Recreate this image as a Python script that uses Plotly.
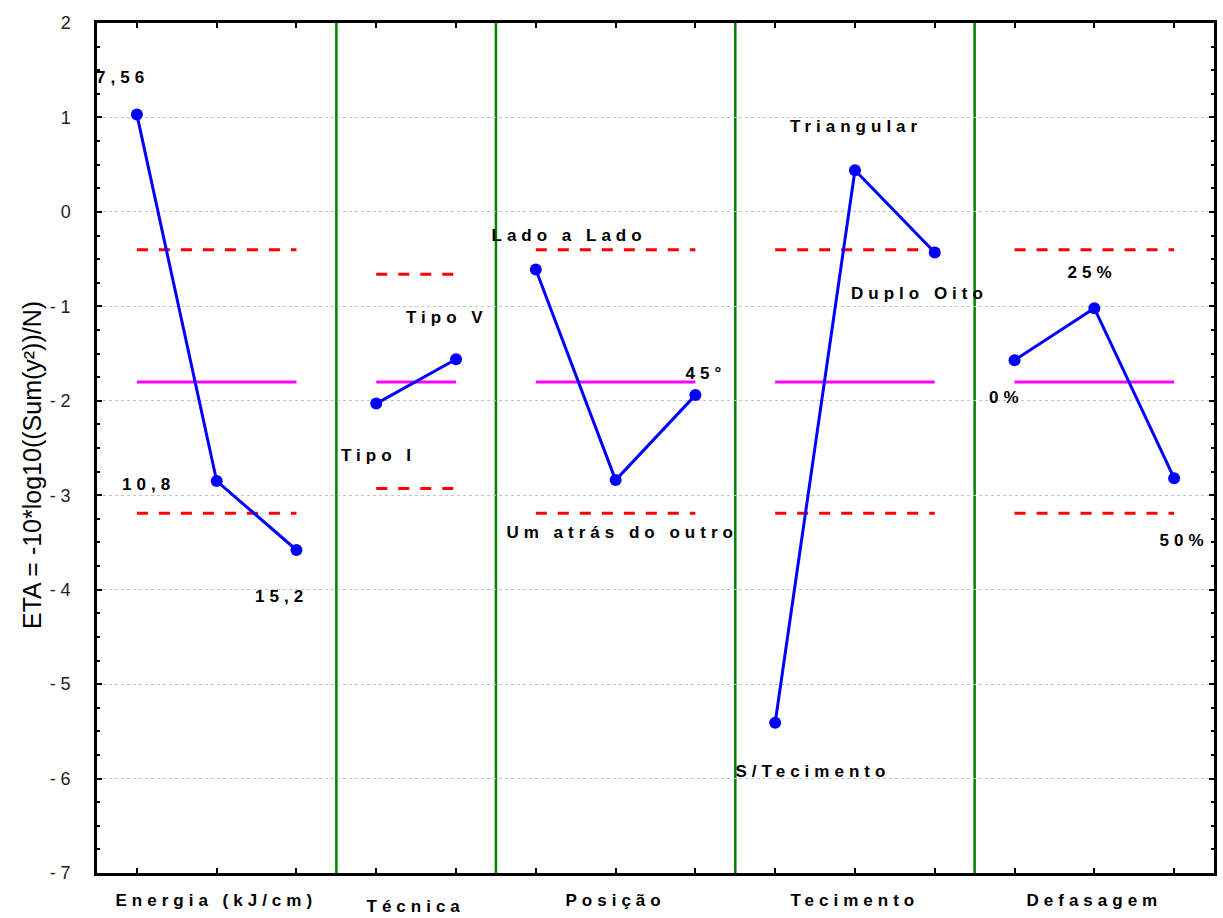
import plotly.graph_objects as go

# Factor groups and their levels
factors = ["Energia (kJ/cm)", "Técnica", "Posição", "Tecimento", "Defasagem"]
levels = [
    ["7,56", "10,8", "15,2"],
    ["Tipo I", "Tipo V"],
    ["Lado a Lado", "Um atrás do outro", "45°"],
    ["S/Tecimento", "Triangular", "Duplo Oito"],
    ["0%", "25%", "50%"],
]

# Mean ETA for each level
energia = [1.03, -2.85, -3.58]
tecnica = [-2.03, -1.56]
posicao = [-0.61, -2.84, -1.94]
tecimento = [-5.41, 0.44, -0.43]
defasagem = [-1.57, -1.02, -2.82]
values = [energia, tecnica, posicao, tecimento, defasagem]

# Grand mean and ±2 sigma limits (by number of levels)
grand_mean = -1.80
upper_limit = {3: -0.40, 2: -0.66}
lower_limit = {3: -3.19, 2: -2.93}

# Label offsets (pixels) relative to each point
label_dx = [[-14, -68, -15], [2, -9], [33, 6, 11], [38, 2, -15], [-8, -2, 10]]
label_dy = [[37, -3, -46], [-52, 42], [34, -52, 22], [-49, 44, -41], [-37, 36, -62]]

LABEL_FONT = dict(family="Liberation Sans Narrow, Arial Narrow, Liberation Sans, Arial",
                  size=17, color="black", weight="bold")

fig = go.Figure()
annotations = []
shapes = []

start = 0
xs_all = []
for gi, (vals, names) in enumerate(zip(values, levels)):
    n = len(vals)
    xs = [start + i + 0.5 for i in range(n)]
    xs_all.extend(xs)
    # limits
    for lim in (upper_limit[n], lower_limit[n]):
        fig.add_trace(go.Scatter(x=[xs[0], xs[-1]], y=[lim, lim], mode="lines",
                                 line=dict(color="#ff0000", width=3, dash="11px,11px"),
                                 hoverinfo="skip", showlegend=False))
    # grand mean
    fig.add_trace(go.Scatter(x=[xs[0], xs[-1]], y=[grand_mean, grand_mean], mode="lines",
                             line=dict(color="#ff00ff", width=3),
                             hoverinfo="skip", showlegend=False))
    # level means
    fig.add_trace(go.Scatter(x=xs, y=vals, mode="lines+markers",
                             line=dict(color="#0000ff", width=3),
                             marker=dict(color="#0000ff", size=12),
                             showlegend=False))
    for i in range(n):
        annotations.append(dict(x=xs[i], y=vals[i], xref="x", yref="y", text=names[i],
                                showarrow=False, xshift=label_dx[gi][i], yshift=label_dy[gi][i],
                                font=LABEL_FONT, xanchor="center", yanchor="middle"))
    # factor name under the axis
    annotations.append(dict(x=start + n / 2, y=0, xref="x", yref="paper", text=factors[gi],
                            showarrow=False, yshift=-33 if factors[gi] == "Técnica" else -27,
                            font=LABEL_FONT, xanchor="center", yanchor="middle"))
    start += n
    if gi < len(values) - 1:
        shapes.append(dict(type="line", x0=start, x1=start, y0=0, y1=1, xref="x", yref="paper",
                           line=dict(color="#008000", width=2.5), layer="below"))

total = start

# y-axis title
annotations.append(dict(x=0, y=0.48, xref="paper", yref="paper", xshift=-65,
                        text="ETA = -10*log10((Sum(y²))/N)", textangle=-90, showarrow=False,
                        font=dict(family="Liberation Sans, Arial", size=25, color="black"),
                        xanchor="center", yanchor="middle"))
title_index = len(annotations) - 1

yticks = list(range(-7, 3))
ytext = [str(v) if v >= 0 else "- " + str(-v) for v in yticks]

fig.update_layout(
    width=1223, height=918,
    margin=dict(l=97, r=6, t=23, b=45),
    plot_bgcolor="white", paper_bgcolor="white",
    annotations=annotations, shapes=shapes,
    xaxis=dict(range=[0, total], tickvals=xs_all, showticklabels=False,
               ticks="inside", ticklen=5, tickwidth=2, tickcolor="black",
               showline=True, linewidth=2.5, linecolor="black", mirror="ticks",
               showgrid=False, zeroline=False),
    yaxis=dict(range=[-7, 2], tickvals=yticks, ticktext=ytext,
               ticks="inside", ticklen=5, tickwidth=2, tickcolor="black",
               minor=dict(dtick=0.25, ticks="inside", ticklen=3, tickwidth=2, tickcolor="black", showgrid=False),
               showline=True, linewidth=2.5, linecolor="black", mirror="ticks",
               showgrid=True, gridcolor="#c4c4c4", gridwidth=1, griddash="dot",
               zeroline=False, ticklabelstandoff=20,
               tickfont=dict(family="Liberation Sans Narrow, Arial Narrow, Liberation Sans, Arial",
                             size=18, color="#222222")),
)

post = """
var s = document.createElement('style');
s.textContent = '.annotation:not([data-index="%d"]) .annotation-text{letter-spacing:5px}';
document.head.appendChild(s);
""" % title_index

fig.write_html("out.html", post_script=post)
